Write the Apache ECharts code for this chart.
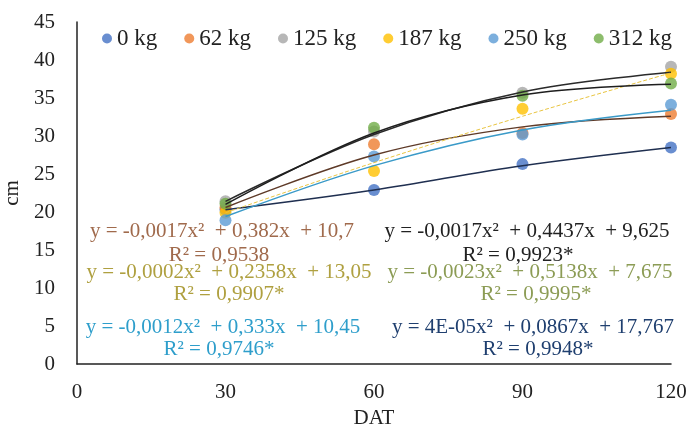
<!DOCTYPE html>
<html lang="en">
<head>
<meta charset="UTF-8">
<script src="https://cdn.jsdelivr.net/npm/echarts@6/dist/echarts.min.js"></script>
<title>DAT x cm</title>
<style>
html, body { margin: 0; padding: 0; background: #fff; }
#chart { width: 689px; height: 425px; }
</style>
</head>
<body>
<div id="chart"></div>
<script>
// dias apos transplantio
var days = [30, 60, 90, 120];
var doses = ['0 kg', '62 kg', '125 kg', '187 kg', '250 kg', '312 kg'];

// altura observada (cm)
var h0   = [20.3, 22.9, 26.3, 28.5];
var h62  = [20.6, 28.9, 30.4, 32.9];
var h125 = [21.4, 30.6, 35.7, 39.1];
var h187 = [19.9, 25.4, 33.6, 38.2];
var h250 = [18.9, 27.3, 30.2, 34.1];
var h312 = [21.1, 31.1, 35.3, 36.9];

// linha de tendencia
var t0   = [20.3, 22.9, 26.1, 28.5];
var t62  = [20.6, 27.5, 31.2, 32.6];
var t125 = [21.4, 30.2, 35.8, 38.4];
var t187 = [19.9, 26.5, 32.6, 38.3];
var t250 = [19.4, 26.1, 30.8, 33.4];
var t312 = [21.0, 30.4, 35.4, 36.8];

var yTicks = [0, 5, 10, 15, 20, 25, 30, 35, 40, 45];
var xTicks = [0, 30, 60, 90, 120];

var equations = [
    'y = -0,0017x²  + 0,382x  + 10,7',
    'y = -0,0017x²  + 0,4437x  + 9,625',
    'y = -0,0002x²  + 0,2358x  + 13,05',
    'y = -0,0023x²  + 0,5138x  + 7,675',
    'y = -0,0012x²  + 0,333x  + 10,45',
    'y = 4E-05x²  + 0,0867x  + 17,767'
];
var r2 = ['R² = 0,9538', 'R² = 0,9923*', 'R² = 0,9907*', 'R² = 0,9995*', 'R² = 0,9746*', 'R² = 0,9948*'];

var colors = ['#4472C4', '#ED7D31', '#A5A5A5', '#FFC000', '#5B9BD5', '#70AD47'];
var trendColors = ['#1F2F50', '#5E3A28', '#2A2A2A', '#E8C440', '#3A9AC8', '#1E1E1E'];
var eqColors = ['#A06A4C', '#222222', '#AFA040', '#8C9C55', '#2E9ECB', '#1F3F6F'];

var serif = '"Liberation Serif", "Times New Roman", serif';

function pairs(vals) {
    return days.map(function (d, i) { return [d, vals[i]]; });
}

var obs = [h0, h62, h125, h187, h250, h312];
var trends = [t0, t62, t125, t187, t250, t312];

var series = [];
trends.forEach(function (t, i) {
    series.push({
        name: 'trend ' + doses[i],
        type: 'line',
        data: pairs(t),
        smooth: 0.35,
        showSymbol: false,
        silent: true,
        z: 3,
        lineStyle: {
            color: trendColors[i],
            width: i === 3 ? 1 : 1.5,
            type: i === 3 ? 'dashed' : 'solid'
        }
    });
});
obs.forEach(function (v, i) {
    series.push({
        name: doses[i],
        type: 'scatter',
        data: pairs(v),
        symbol: 'circle',
        symbolSize: 12,
        z: 2,
        itemStyle: { color: colors[i] }
    });
});

// posicoes das equacoes [x, y] de eq e R2
var eqPos = [[222, 231], [527, 231], [229, 272], [530, 272], [223, 327], [533, 327]];
var r2Pos = [[219, 255], [518, 255], [229, 294], [536, 294], [219, 349], [538, 349]];

var graphics = [];
equations.forEach(function (e, i) {
    graphics.push({
        type: 'text', x: eqPos[i][0], y: eqPos[i][1], z: 10,
        style: { text: e, fill: eqColors[i], font: '21px ' + serif, align: 'center', verticalAlign: 'middle' }
    });
    graphics.push({
        type: 'text', x: r2Pos[i][0], y: r2Pos[i][1], z: 10,
        style: { text: r2[i], fill: eqColors[i], font: '21px ' + serif, align: 'center', verticalAlign: 'middle' }
    });
});

var chart = echarts.init(document.getElementById('chart'));
chart.setOption({
    animation: false,
    color: colors,
    grid: { left: 77, right: 18, top: 22, bottom: 61, outerBoundsMode: 'none' },
    legend: {
        data: doses,
        top: 22,
        left: 97,
        icon: 'circle',
        itemWidth: 10,
        itemHeight: 10,
        itemGap: 27,
        textStyle: { fontFamily: serif, fontSize: 23, color: '#222' }
    },
    xAxis: {
        type: 'value',
        min: xTicks[0],
        max: xTicks[xTicks.length - 1],
        interval: 30,
        name: 'DAT',
        nameLocation: 'middle',
        nameGap: 28,
        nameTextStyle: { fontFamily: serif, fontSize: 21, color: '#222' },
        axisLine: { lineStyle: { color: '#222', width: 1.5 } },
        axisTick: { show: false },
        splitLine: { show: false },
        axisLabel: { fontFamily: serif, fontSize: 21, color: '#222', margin: 18 }
    },
    yAxis: {
        type: 'value',
        min: yTicks[0],
        max: yTicks[yTicks.length - 1],
        interval: 5,
        name: 'cm',
        nameLocation: 'middle',
        nameGap: 48,
        nameTextStyle: { fontFamily: serif, fontSize: 21, color: '#222' },
        axisLine: { show: true, lineStyle: { color: '#222', width: 1.5 } },
        axisTick: { show: false },
        splitLine: { show: false },
        axisLabel: { fontFamily: serif, fontSize: 21, color: '#222', margin: 22 }
    },
    graphic: graphics,
    series: series
});
</script>
</body>
</html>
